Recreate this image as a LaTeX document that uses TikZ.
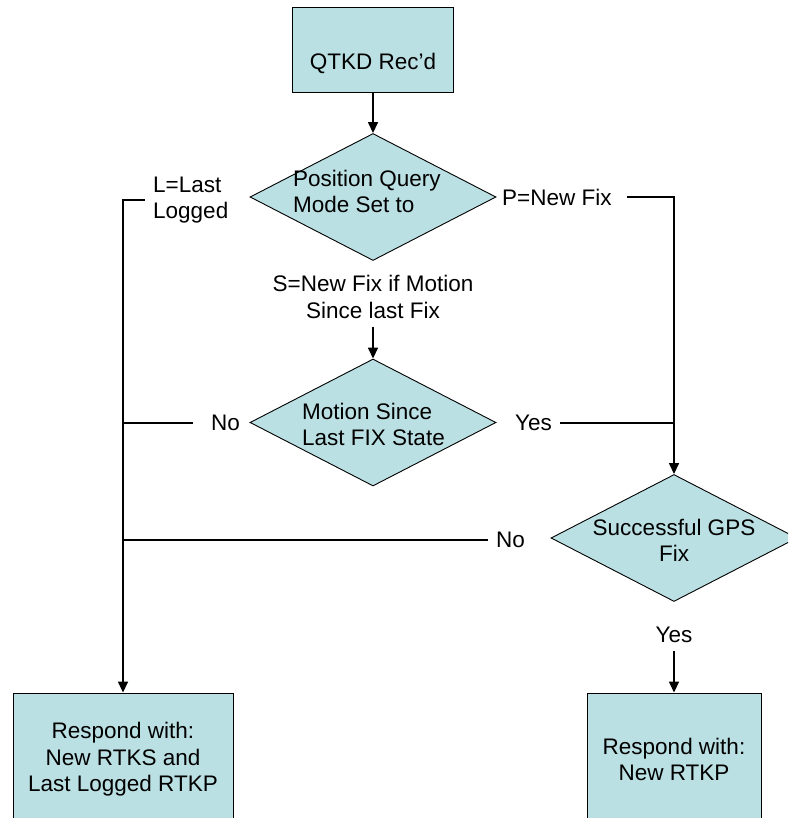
\documentclass[tikz,border=0pt]{standalone}
\usepackage{fontspec}
\setmainfont{Liberation Sans}
\usetikzlibrary{shapes.geometric,arrows.meta}
\definecolor{boxfill}{RGB}{187,224,227}
\tikzset{
  proc/.style={draw,fill=boxfill,line width=0.9pt,inner sep=0pt,align=center},
  decision/.style={diamond,draw,fill=boxfill,line width=0.9pt,inner sep=0pt,
    minimum width=246pt,minimum height=127pt},
  lbl/.style={inner sep=8pt,align=left},
  flow/.style={line width=1.5pt,-{Triangle[length=11pt,width=10pt]}},
  link/.style={line width=1.5pt},
}

\begin{document}
\begin{tikzpicture}[x=1pt,y=-1pt,font=\fontsize{22.5}{26.5}\selectfont]
  \clip (0,0) rectangle (788,818);

  % boxes and decisions
  \node[proc,minimum width=161pt,text height=63pt,text depth=22pt] (start) at (373,49.5) {QTKD Rec’d};
  \node[decision] (mode)   at (373,197) {};
  \node[decision] (motion) at (373,422.5) {};
  \node[decision] (gps)    at (674,538) {};
  \node[proc,minimum width=220pt,minimum height=133pt] (oldfix) at (123,759.5)
    {Respond with:\\New RTKS and\\Last Logged RTKP};
  \node[proc,minimum width=174pt,minimum height=133pt] (newfix) at (674,759.5)
    {Respond with:\\New RTKP};

  % text inside the decisions
  \node[anchor=west,align=left,inner sep=0pt] (modetxt)   at (293,191.5) {Position Query\\Mode Set to};
  \node[anchor=west,align=left,inner sep=0pt] (motiontxt) at (302,424.5) {Motion Since\\Last FIX State};
  \node[align=center,inner sep=0pt]           (gpstxt)    at (674,540.5) {Successful GPS\\Fix};

  % branch labels
  \node[lbl,anchor=west] (last) at (145,200) {L=Last\\Logged};
  \node[lbl,anchor=west] (pfix) at (494,197) {P=New Fix};
  \node[lbl,align=center] (sfix) at (373,297) {S=New Fix if Motion\\Since last Fix};
  \node[lbl,anchor=east] (mno)  at (248,423) {No};
  \node[lbl,anchor=west] (myes) at (507,423) {Yes};
  \node[lbl,anchor=east] (gno)  at (533,540) {No};
  \node[lbl]             (gyes) at (674,635) {Yes};

  % connectors
  \draw[flow] (start) -- (mode);
  \draw[flow] (sfix) -- (motion);
  \draw[flow] ([xshift=7pt]pfix.east) -| (gps.north);
  \draw[flow] (last.west) -| (oldfix.north);
  \draw[link] ([xshift=-10pt]mno.west) -- (mno.west -| oldfix.north);
  \draw[link] (myes.east) -- (myes.east -| gps.north);
  \draw[link] (gno.west) -- (gno.west -| oldfix.north);
  \draw[flow] (gyes) -- (newfix);
\end{tikzpicture}
\end{document}
